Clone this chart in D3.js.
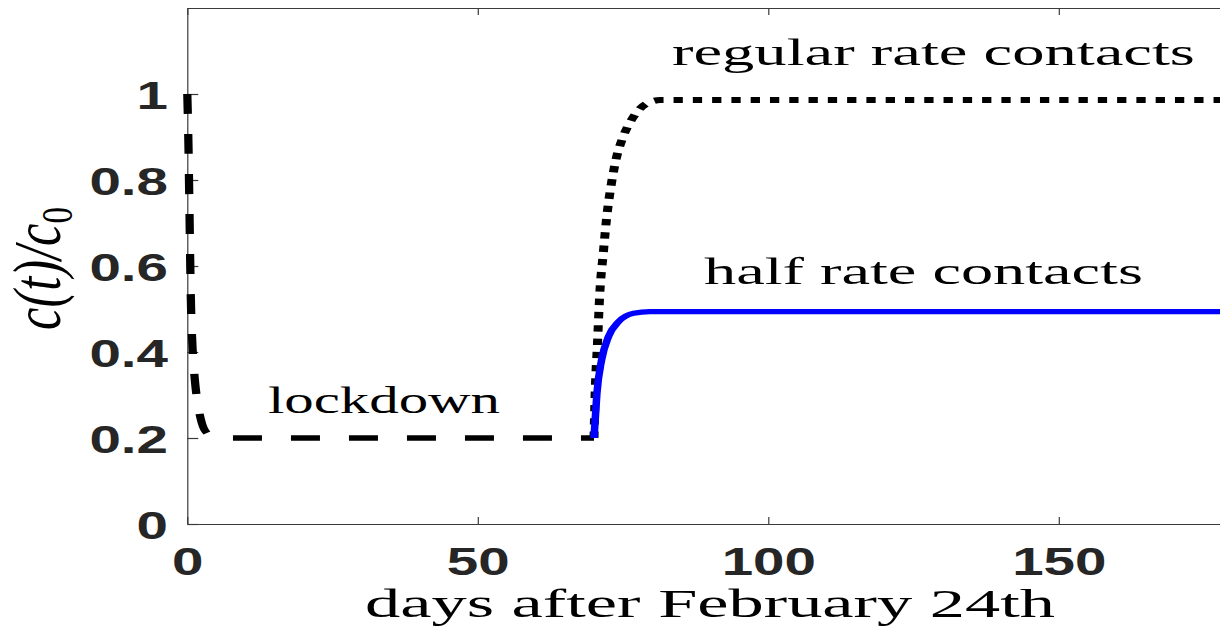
<!DOCTYPE html>
<html><head><meta charset="utf-8">
<script src="https://cdn.jsdelivr.net/npm/d3@7"></script>
<style>html,body{margin:0;padding:0;background:#fff;}svg{display:block;}</style>
</head><body>
<svg id="chart" width="1220" height="632"></svg>
<script>
// ---- data ----
const lockdownT = [0, 0.2, 0.35, 0.6, 0.9, 1.3, 1.8, 2.5, 3.5, 5, 70];
const lockdownC = [1, 0.88, 0.75, 0.53, 0.41, 0.335, 0.28, 0.235, 0.21, 0.2, 0.2];
const regularT = [70, 70.2, 70.6, 71.0, 71.6, 72.2, 73.0, 73.9, 75.0, 76.8, 79.1, 81.4, 180];
const regularC = [0.2, 0.304, 0.42, 0.537, 0.63, 0.715, 0.792, 0.854, 0.90, 0.947, 0.978, 0.986, 0.986];
const halfT = [70, 70.5, 71.3, 72.5, 74.2, 76.8, 79.6, 180];
const halfC = [0.2, 0.304, 0.381, 0.436, 0.47, 0.49, 0.494, 0.494];
const xTicks = [0, 50, 100, 150];
const yTicks = [0, 0.2, 0.4, 0.6, 0.8, 1];
const xTickLabels = ["0", "50", "100", "150"];
const yTickLabels = ["0", "0.2", "0.4", "0.6", "0.8", "1"];
const xLabel = "days after February 24th";
const annotations = ["regular rate contacts", "half rate contacts", "lockdown"];

// ---- layout ----
const svg = d3.select("#chart");
const L = 187.3, T = 8, B = 524, R = 187.3 + 180 * 5.81;
const SX = 1.45; // horizontal stretch of the whole figure
const x = d3.scaleLinear().domain([0, 180]).range([L, R]);
const y = d3.scaleLinear().domain([0, 1.2]).range([B, T]);
const xs = x.copy().range([L / SX, R / SX]); // for the stretched line group
const axisColor = "#3a3a3a";

function styleAxis(g) {
  g.select(".domain").attr("stroke", axisColor).attr("stroke-width", 1.2);
  g.selectAll(".tick line").attr("stroke", axisColor).attr("stroke-width", 1.2);
}

// left axis
const gl = svg.append("g").attr("transform", `translate(${L},0)`)
  .call(d3.axisLeft(y).tickValues(yTicks).tickSize(-11).tickSizeOuter(0)
    .tickFormat((d, i) => yTickLabels[i]));
styleAxis(gl);
gl.selectAll(".tick text")
  .attr("font-family", "'Liberation Sans', Arial, sans-serif")
  .attr("font-weight", "bold").attr("font-size", 39).attr("fill", "#262626")
  .attr("text-anchor", "end")
  .attr("x", -(L - 168) / SX).attr("dy", "0.36em")
  .attr("transform", `scale(${SX},1)`);

// bottom axis
const gb = svg.append("g").attr("transform", `translate(0,${B})`)
  .call(d3.axisBottom(x).tickValues(xTicks).tickSize(-7).tickSizeOuter(0)
    .tickFormat((d, i) => xTickLabels[i]));
styleAxis(gb);
gb.selectAll(".tick text")
  .attr("font-family", "'Liberation Sans', Arial, sans-serif")
  .attr("font-weight", "bold").attr("font-size", 39).attr("fill", "#262626")
  .attr("text-anchor", "middle")
  .attr("y", 51).attr("dy", 0)
  .attr("transform", `scale(${SX},1)`);

// top axis (box)
const gt = svg.append("g").attr("transform", `translate(0,${T})`)
  .call(d3.axisTop(x).tickValues(xTicks).tickSize(-7).tickSizeOuter(0).tickFormat(""));
styleAxis(gt);
// right axis (box)
const gr = svg.append("g").attr("transform", `translate(${R},0)`)
  .call(d3.axisRight(y).tickValues(yTicks).tickSize(-11).tickSizeOuter(0).tickFormat(""));
styleAxis(gr);

// ---- lines (drawn in unstretched space, then stretched horizontally) ----
const lg = svg.append("g").attr("transform", `scale(${SX},1)`);
const line = d3.line().x(d => xs(d[0])).y(d => y(d[1])).curve(d3.curveMonotoneX);
const zip = (a, b) => a.map((v, i) => [v, b[i]]);

lg.append("path").datum(zip(lockdownT, lockdownC))
  .attr("d", line).attr("fill", "none").attr("stroke", "#000")
  .attr("stroke-width", 5.7).attr("stroke-dasharray", "20,20");
lg.append("path").datum(zip(regularT, regularC))
  .attr("d", line).attr("fill", "none").attr("stroke", "#000")
  .attr("stroke-width", 6.2).attr("stroke-dasharray", "6.4,6.9");
lg.append("path").datum(zip(halfT, halfC))
  .attr("d", line).attr("fill", "none").attr("stroke", "#0000ff")
  .attr("stroke-width", 5.2);

// ---- text ----
const serif = "'Liberation Serif', 'Times New Roman', serif";
function label(txt, x0, x1, base, size) {
  svg.append("text").text(txt)
    .attr("x", x0).attr("y", base)
    .attr("font-family", serif).attr("font-size", size).attr("fill", "#000")
    .attr("textLength", x1 - x0).attr("lengthAdjust", "spacingAndGlyphs");
}
label(annotations[0], 672, 1195, 65, 37);
label(annotations[1], 704, 1143, 284, 37);
label(annotations[2], 268, 500, 413, 37);
label(xLabel, 365, 1055, 617, 39);

// y label c(t)/c0
const yl = svg.append("g").attr("transform", `translate(60,268.5) scale(${SX},1) rotate(-90)`);
const ylt = yl.append("text").attr("text-anchor", "middle")
  .attr("font-family", serif).attr("font-size", 46).attr("fill", "#000")
  .attr("textLength", 123).attr("lengthAdjust", "spacingAndGlyphs");
ylt.append("tspan").attr("font-style", "italic").text("c(t)/c");
ylt.append("tspan").attr("font-size", 30).attr("dy", 8).text("0");
</script>
</body></html>
